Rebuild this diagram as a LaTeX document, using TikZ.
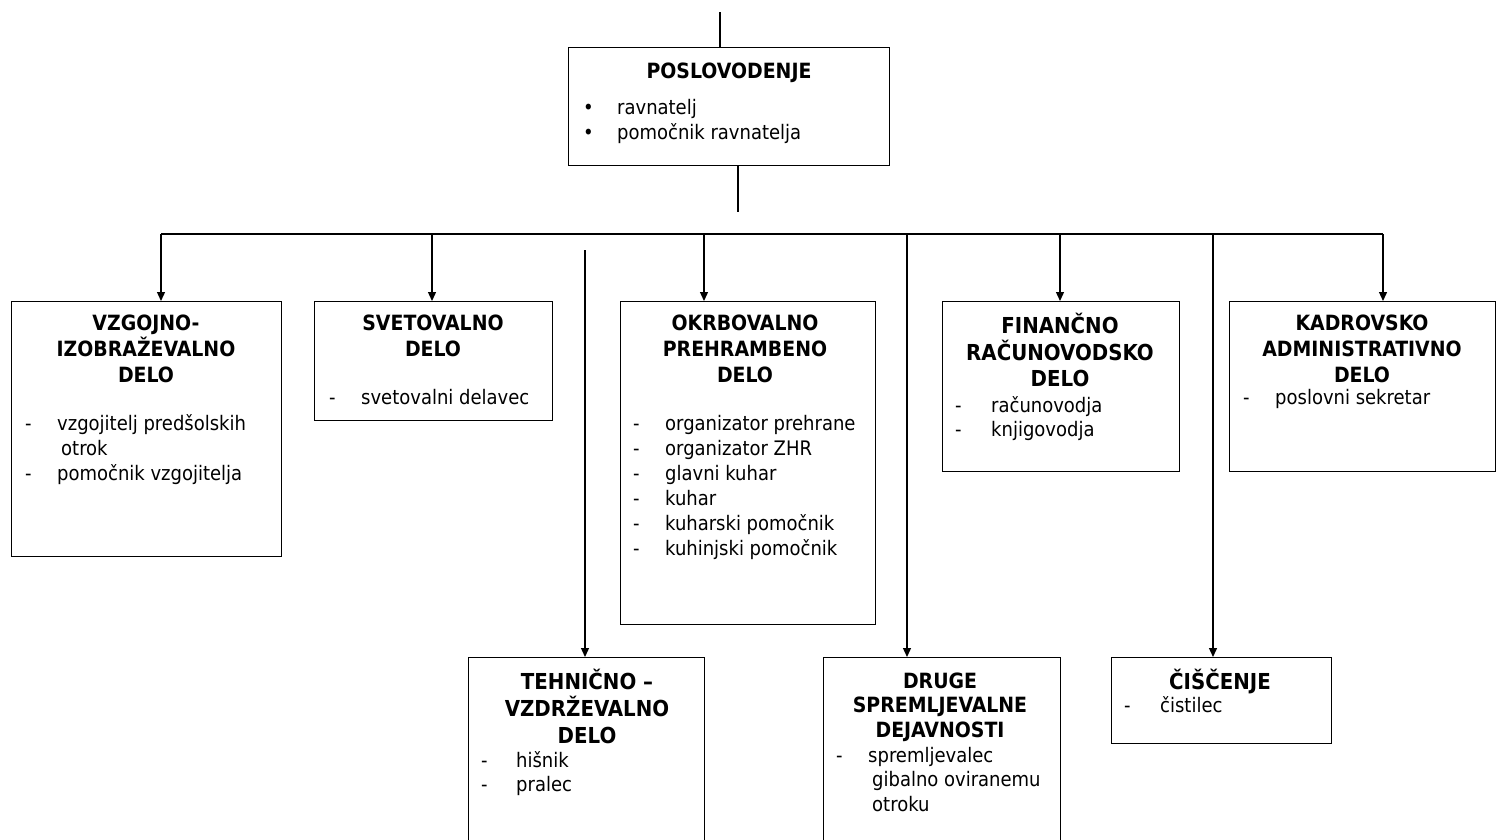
\documentclass[tikz,border=0pt]{standalone}
\usepackage{fontspec}
\setmainfont{DejaVu Sans Condensed}
\usetikzlibrary{arrows.meta}
\begin{document}
\begin{tikzpicture}[x=1pt,y=-1pt,
  box/.style={draw, line width=1.4pt, inner sep=0pt, anchor=north west},
  hd/.style={font=\fontsize{21}{25}\selectfont\bfseries, anchor=mid, inner sep=0pt, yshift=-4pt},
  hdb/.style={font=\fontsize{22}{26}\selectfont\bfseries, anchor=mid, inner sep=0pt, yshift=-4pt},
  it/.style={font=\fontsize{20}{24}\selectfont, anchor=mid west, inner sep=0pt, yshift=-4pt},
  conn/.style={line width=1.3pt},
  arr/.style={conn, -{Triangle[length=9pt,width=8pt]}}]
\useasboundingbox[fill=white] (0,0) rectangle (1496,839);

% boxes
\node[box, minimum width=321pt, minimum height=118pt] (pos) at (568,47) {};
\node[box, minimum width=270pt, minimum height=255pt] (vz) at (11,301) {};
\node[box, minimum width=238pt, minimum height=119pt] (sv) at (314,301) {};
\node[box, minimum width=255pt, minimum height=323pt] (ok) at (620,301) {};
\node[box, minimum width=237pt, minimum height=170pt] (fi) at (942,301) {};
\node[box, minimum width=266pt, minimum height=170pt] (ka) at (1229,301) {};
\node[box, minimum width=236pt, minimum height=200pt] (te) at (468,657) {};
\node[box, minimum width=237pt, minimum height=200pt] (dr) at (823,657) {};
\node[box, minimum width=220pt, minimum height=86pt] (ci) at (1111,657) {};

% connectors
\coordinate (top) at (720,12);
\draw[conn] (top) -- (top |- pos.north);
\coordinate (posend) at (738,212);
\draw[conn] (posend |- pos.south) -- (posend);
\coordinate (b1) at (161,234);
\coordinate (b2) at (432,234);
\coordinate (b3) at (704,234);
\coordinate (b4) at (907,234);
\coordinate (b5) at (1060,234);
\coordinate (b6) at (1213,234);
\coordinate (b7) at (1383,234);
\draw[conn] (b1) -- (b7);
\draw[arr] (b1) -- (b1 |- vz.north);
\draw[arr] (b2) -- (b2 |- sv.north);
\draw[arr] (b3) -- (b3 |- ok.north);
\draw[arr] (b4) -- (b4 |- dr.north);
\draw[arr] (b5) -- (b5 |- fi.north);
\draw[arr] (b6) -- (b6 |- ci.north);
\draw[arr] (b7) -- (b7 |- ka.north);
\coordinate (tstart) at (585,250);
\draw[arr] (tstart) -- (tstart |- te.north);

% POSLOVODENJE
\node[hd] (posh) at (729,72) {POSLOVODENJE};
\node[it] (posb1) at (583,108) {•};
\node[it] (posi1) at (617,108) {ravnatelj};
\node[it] (posb2) at (583,133) {•};
\node[it] (posi2) at (617,133) {pomočnik ravnatelja};

% VZGOJNO
\node[hd] (vzh1) at (146,324) {VZGOJNO-};
\node[hd] (vzh2) at (146,350) {IZOBRAŽEVALNO};
\node[hd] (vzh3) at (146,376) {DELO};
\node[it] (vzd1) at (25,424) {-};
\node[it] (vzi1) at (57,424) {vzgojitelj predšolskih};
\node[it] (vzi1b) at (61,449) {otrok};
\node[it] (vzd2) at (25,474) {-};
\node[it] (vzi2) at (57,474) {pomočnik vzgojitelja};

% SVETOVALNO
\node[hd] (svh1) at (433,324) {SVETOVALNO};
\node[hd] (svh2) at (433,350) {DELO};
\node[it] (svd1) at (329,398) {-};
\node[it] (svi1) at (361,398) {svetovalni delavec};

% OKRBOVALNO
\node[hd] (okh1) at (745,324) {OKRBOVALNO};
\node[hd] (okh2) at (745,350) {PREHRAMBENO};
\node[hd] (okh3) at (745,376) {DELO};
\node[it] (okd1) at (633,424) {-};
\node[it] (oki1) at (665,424) {organizator prehrane};
\node[it] (okd2) at (633,449) {-};
\node[it] (oki2) at (665,449) {organizator ZHR};
\node[it] (okd3) at (633,474) {-};
\node[it] (oki3) at (665,474) {glavni kuhar};
\node[it] (okd4) at (633,499) {-};
\node[it] (oki4) at (665,499) {kuhar};
\node[it] (okd5) at (633,524) {-};
\node[it] (oki5) at (665,524) {kuharski pomočnik};
\node[it] (okd6) at (633,549) {-};
\node[it] (oki6) at (665,549) {kuhinjski pomočnik};

% FINANCNO
\node[hdb] (fih1) at (1060,327) {FINANČNO};
\node[hdb] (fih2) at (1060,354) {RAČUNOVODSKO};
\node[hdb] (fih3) at (1060,380) {DELO};
\node[it] (fid1) at (955,406) {-};
\node[it] (fii1) at (991,406) {računovodja};
\node[it] (fid2) at (955,430) {-};
\node[it] (fii2) at (991,430) {knjigovodja};

% KADROVSKO
\node[hd] (kah1) at (1362,324) {KADROVSKO};
\node[hd] (kah2) at (1362,350) {ADMINISTRATIVNO};
\node[hd] (kah3) at (1362,376) {DELO};
\node[it] (kad1) at (1243,398) {-};
\node[it] (kai1) at (1275,398) {poslovni sekretar};

% TEHNICNO
\node[hdb] (teh1) at (587,683) {TEHNIČNO –};
\node[hdb] (teh2) at (587,710) {VZDRŽEVALNO};
\node[hdb] (teh3) at (587,737) {DELO};
\node[it] (ted1) at (481,761) {-};
\node[it] (tei1) at (516,761) {hišnik};
\node[it] (ted2) at (481,785) {-};
\node[it] (tei2) at (516,785) {pralec};

% DRUGE
\node[hd] (drh1) at (940,682) {DRUGE};
\node[hd] (drh2) at (940,706) {SPREMLJEVALNE};
\node[hd] (drh3) at (940,731) {DEJAVNOSTI};
\node[it] (drd1) at (836,756) {-};
\node[it] (dri1) at (868,756) {spremljevalec};
\node[it] (dri1b) at (872,780) {gibalno oviranemu};
\node[it] (dri1c) at (872,805) {otroku};

% CISCENJE
\node[hdb] (cih1) at (1220,683) {ČIŠČENJE};
\node[it] (cid1) at (1124,706) {-};
\node[it] (cii1) at (1160,706) {čistilec};
\end{tikzpicture}
\end{document}
